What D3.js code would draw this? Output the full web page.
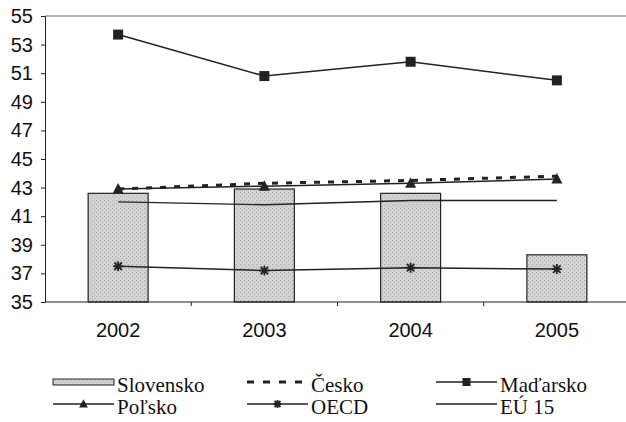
<!DOCTYPE html>
<html>
<head>
<meta charset="utf-8">
<script src="https://cdn.jsdelivr.net/npm/d3@7"></script>
<style>
  body { margin: 0; background: #fff; }
  svg { display: block; }
</style>
</head>
<body>
<svg id="chart" width="626" height="422"></svg>
<script>
// data
var years = ["2002", "2003", "2004", "2005"];
var yTicks = [35, 37, 39, 41, 43, 45, 47, 49, 51, 53, 55];
var slovensko = [42.6, 42.9, 42.6, 38.3];
var cesko = [42.9, 43.3, 43.5, 43.8];
var madarsko = [53.7, 50.8, 51.8, 50.5];
var polsko = [42.9, 43.1, 43.3, 43.6];
var oecd = [37.5, 37.2, 37.4, 37.3];
var eu15 = [42.0, 41.8, 42.1, 42.1];

var ink = "#222";
var plotL = 45, plotR = 630, plotT = 16, plotB = 302;

var svg = d3.select("#chart");

var x = d3.scalePoint().domain(years).range([plotL, plotR]).padding(0.5);
var step = x.step();
var y = d3.scaleLinear().domain([35, 55]).range([plotB, plotT]);

// bar fill: light grey speckle
var defs = svg.append("defs");
var pat = defs.append("pattern").attr("id", "speckle")
  .attr("width", 4).attr("height", 4).attr("patternUnits", "userSpaceOnUse");
pat.append("rect").attr("width", 4).attr("height", 4).attr("fill", "#d2d2d2");
pat.append("rect").attr("x", 0).attr("y", 0).attr("width", 1).attr("height", 1).attr("fill", "#a8a8a8");
pat.append("rect").attr("x", 2).attr("y", 2).attr("width", 1).attr("height", 1).attr("fill", "#b0b0b0");

// top frame line
svg.append("line")
  .attr("x1", plotL).attr("x2", 626).attr("y1", y(55)).attr("y2", y(55))
  .attr("stroke", "#666").attr("stroke-width", 1);

// bars
var barW = step * 0.41;
svg.selectAll(".bar").data(slovensko).enter().append("rect")
  .attr("class", "bar")
  .attr("x", (d, i) => x(years[i]) - barW / 2)
  .attr("y", d => y(d))
  .attr("width", barW)
  .attr("height", d => y(35) - y(d))
  .attr("fill", "url(#speckle)")
  .attr("stroke", ink).attr("stroke-width", 1.2);

// y axis
var yAxis = d3.axisLeft(y).tickValues(yTicks).tickSize(4).tickPadding(8);
var yG = svg.append("g").attr("transform", `translate(${plotL},0)`).call(yAxis);
yG.select(".domain").attr("stroke", ink);
yG.selectAll(".tick line").attr("stroke", ink);
yG.selectAll("text").style("font-family", "Liberation Sans, Arial, sans-serif")
  .style("font-size", "20px").attr("fill", "#111");

// x axis line + category boundary ticks
svg.append("line").attr("x1", plotL).attr("x2", 626).attr("y1", plotB).attr("y2", plotB)
  .attr("stroke", ink).attr("stroke-width", 1.2);
svg.selectAll(".xtick").data(years.slice(1)).enter().append("line")
  .attr("x1", d => x(d) - step / 2).attr("x2", d => x(d) - step / 2)
  .attr("y1", plotB).attr("y2", plotB + 4)
  .attr("stroke", ink);
svg.selectAll(".xlab").data(years).enter().append("text")
  .attr("x", d => x(d)).attr("y", 337)
  .attr("text-anchor", "middle")
  .style("font-family", "Liberation Sans, Arial, sans-serif")
  .style("font-size", "20px").attr("fill", "#111")
  .text(d => d);

// markers
function square(g, s) {
  g.append("rect").attr("x", -s / 2).attr("y", -s / 2).attr("width", s).attr("height", s).attr("fill", ink);
}
function triangle(g, s) {
  g.append("path").attr("d", `M0,${-s * 0.6}L${s * 0.55},${s * 0.45}L${-s * 0.55},${s * 0.45}Z`).attr("fill", ink);
}
function star(g, s) {
  var r = s / 2;
  g.append("path")
    .attr("d", `M${-r},0H${r}M0,${-r}V${r}M${-r * 0.75},${-r * 0.75}L${r * 0.75},${r * 0.75}M${-r * 0.75},${r * 0.75}L${r * 0.75},${-r * 0.75}`)
    .attr("stroke", ink).attr("stroke-width", 1.8).attr("fill", "none");
}

var line = d3.line().x((d, i) => x(years[i])).y(d => y(d));

var series = [
  { name: "EÚ 15", values: eu15, dash: null, width: 1.4, marker: null },
  { name: "OECD", values: oecd, dash: null, width: 1.5, marker: star },
  { name: "Poľsko", values: polsko, dash: null, width: 1.5, marker: triangle },
  { name: "Česko", values: cesko, dash: "6,8", width: 3, marker: null },
  { name: "Maďarsko", values: madarsko, dash: null, width: 1.5, marker: square }
];

series.forEach(s => {
  svg.append("path").datum(s.values)
    .attr("d", line)
    .attr("fill", "none")
    .attr("stroke", ink)
    .attr("stroke-width", s.width)
    .attr("stroke-dasharray", s.dash);
  if (s.marker) {
    s.values.forEach((v, i) => {
      var g = svg.append("g").attr("transform", `translate(${x(years[i])},${y(v)})`);
      s.marker(g, 10);
    });
  }
});

// legend
var legendItems = [
  { name: "Slovensko", kind: "bar" },
  { name: "Česko", kind: "dash" },
  { name: "Maďarsko", kind: "line", marker: square },
  { name: "Poľsko", kind: "line", marker: triangle },
  { name: "OECD", kind: "line", marker: star },
  { name: "EÚ 15", kind: "line", marker: null }
];
var legCols = [53, 247, 436];
var legRows = [382, 404];
var symW = 61;

legendItems.forEach((it, i) => {
  var gx = legCols[i % 3], gy = legRows[Math.floor(i / 3)];
  var g = svg.append("g").attr("transform", `translate(${gx},${gy})`);
  if (it.kind === "bar") {
    g.append("rect").attr("x", 0).attr("y", -3).attr("width", symW).attr("height", 6)
      .attr("fill", "url(#speckle)").attr("stroke", ink).attr("stroke-width", 1);
  } else if (it.kind === "dash") {
    g.append("line").attr("x1", 0).attr("x2", symW).attr("y1", 0).attr("y2", 0)
      .attr("stroke", ink).attr("stroke-width", 3).attr("stroke-dasharray", "7,9");
  } else {
    g.append("line").attr("x1", 0).attr("x2", symW).attr("y1", 0).attr("y2", 0)
      .attr("stroke", ink).attr("stroke-width", 1.5);
    if (it.marker) {
      var m = g.append("g").attr("transform", `translate(${symW / 2},0)`);
      it.marker(m, 8);
    }
  }
  g.append("text").attr("x", symW + 3).attr("y", 10)
    .style("font-family", "Liberation Serif, Times New Roman, serif")
    .style("font-size", "21px").attr("fill", "#111")
    .text(it.name);
});
</script>
</body>
</html>
